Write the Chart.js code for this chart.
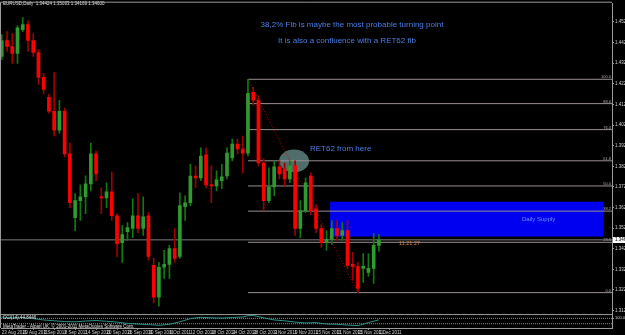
<!DOCTYPE html>
<html>
<head>
<meta charset="utf-8">
<script src="https://cdn.jsdelivr.net/npm/chart.js@4.4.1/dist/chart.umd.min.js"></script>
<style>
  html, body { margin: 0; padding: 0; background: #000; }
  #chart { display: block; }
</style>
</head>
<body>
<canvas id="chart" width="625" height="335"></canvas>
<script>
// EURUSD daily, 23 Aug 2011 - 1 Dec 2011 (one entry per candle)
const opens = [1.4358, 1.4435, 1.4406, 1.4372, 1.4488, 1.4512, 1.4435, 1.4377, 1.4256, 1.4160,
  1.4092, 1.4000, 1.4092, 1.3885, 1.3576, 1.3658, 1.3677, 1.3740, 1.3885, 1.3677,
  1.3672, 1.3701, 1.3585, 1.3455, 1.3508, 1.3523, 1.3585, 1.3523, 1.3585, 1.3344,
  1.3190, 1.3335, 1.3349, 1.3426, 1.3388, 1.3629, 1.3648, 1.3778, 1.3769, 1.3880,
  1.3735, 1.3730, 1.3755, 1.3778, 1.3865, 1.3933, 1.3909, 1.3889, 1.4184, 1.4146,
  1.3841, 1.3658, 1.3725, 1.3822, 1.3812, 1.3764, 1.3827, 1.3523, 1.3610, 1.3778,
  1.3619, 1.3523, 1.3455, 1.3470, 1.3523, 1.3489, 1.3513, 1.3349, 1.3339, 1.3330,
  1.3310, 1.3330, 1.3441];
const highs = [1.4464, 1.4478, 1.4469, 1.4507, 1.4546, 1.4531, 1.4469, 1.4391, 1.4276, 1.4174,
  1.4280, 1.4145, 1.4107, 1.3938, 1.3692, 1.3735, 1.3779, 1.3938, 1.3899, 1.3721,
  1.3745, 1.3798, 1.3595, 1.3537, 1.3552, 1.3667, 1.3692, 1.3677, 1.3600, 1.3378,
  1.3359, 1.3417, 1.3441, 1.3523, 1.3696, 1.3682, 1.3836, 1.3827, 1.3914, 1.3914,
  1.3827, 1.3803, 1.3836, 1.3914, 1.3957, 1.3957, 1.3972, 1.4247, 1.4208, 1.4165,
  1.3861, 1.3817, 1.3851, 1.3851, 1.3841, 1.3851, 1.3851, 1.3658, 1.3769, 1.3793,
  1.3639, 1.3542, 1.3513, 1.3562, 1.3562, 1.3552, 1.3562, 1.3407, 1.3359, 1.3402,
  1.3400, 1.3499, 1.3494];
const lows = [1.4343, 1.4382, 1.4324, 1.4324, 1.4478, 1.4382, 1.4358, 1.4222, 1.4179, 1.4083,
  1.3971, 1.3986, 1.3870, 1.3624, 1.3513, 1.3562, 1.3595, 1.3706, 1.3755, 1.3595,
  1.3624, 1.3562, 1.3387, 1.3359, 1.3465, 1.3479, 1.3503, 1.3489, 1.3369, 1.3161,
  1.3146, 1.3281, 1.3281, 1.3359, 1.3378, 1.3562, 1.3634, 1.3721, 1.3755, 1.3721,
  1.3648, 1.3706, 1.3716, 1.3764, 1.3851, 1.3885, 1.3793, 1.3875, 1.4121, 1.3827,
  1.3610, 1.3648, 1.3682, 1.3764, 1.3730, 1.3745, 1.3489, 1.3479, 1.3600, 1.3590,
  1.3503, 1.3431, 1.3417, 1.3446, 1.3465, 1.3465, 1.3330, 1.3272, 1.3212, 1.3262,
  1.3291, 1.3257, 1.3412];
const closes = [1.4435, 1.4406, 1.4372, 1.4497, 1.4512, 1.4435, 1.4377, 1.4256, 1.4198, 1.4092,
  1.4000, 1.4092, 1.3885, 1.3648, 1.3658, 1.3677, 1.3740, 1.3885, 1.3788, 1.3672,
  1.3701, 1.3585, 1.3450, 1.3494, 1.3528, 1.3585, 1.3523, 1.3580, 1.3388, 1.3190,
  1.3335, 1.3349, 1.3426, 1.3378, 1.3634, 1.3648, 1.3778, 1.3769, 1.3875, 1.3735,
  1.3730, 1.3759, 1.3774, 1.3889, 1.3933, 1.3909, 1.3889, 1.4179, 1.4146, 1.3841,
  1.3658, 1.3725, 1.3822, 1.3788, 1.3764, 1.3827, 1.3523, 1.3610, 1.3745, 1.3610,
  1.3523, 1.3455, 1.3470, 1.3523, 1.3489, 1.3513, 1.3344, 1.3339, 1.3233, 1.3340,
  1.3330, 1.3441, 1.3468];

// date labels on the time axis, one every 4 candles
const tickIdx = [0, 4, 8, 12, 16, 20, 24, 28, 32, 36, 40, 44, 48, 52, 56, 60, 64, 68, 72];
const dayLabels = ['23 Aug 2011', '29 Aug 2011', '2 Sep 2011', '8 Sep 2011', '14 Sep 2011',
  '20 Sep 2011', '26 Sep 2011', '30 Sep 2011', '6 Oct 2011', '12 Oct 2011', '18 Oct 2011',
  '24 Oct 2011', '28 Oct 2011', '3 Nov 2011', '9 Nov 2011', '15 Nov 2011', '21 Nov 2011',
  '25 Nov 2011', '1 Dec 2011'];

// fibo from the 27 Oct high to the 25 Nov low
const fibHigh = 1.4247, fibLow = 1.3212;
const fibStart = 47, fibEnd = 68;
const fibRatios = [0, 23.6, 38.2, 50.0, 61.8, 76.4, 88.6, 100.0];

// supply zone and the marked area
const zoneStart = 62.65, zoneEnd = 114.9, zoneTop = 1.3653, zoneBottom = 1.3484;
const markX = 55.8, markY = 1.3851, markW = 2.86, markH = 0.0055;

// CCI(14) in the lower window, read every couple of candles
const cciIdx = [0, 2, 4, 6, 8, 10, 12, 14, 16, 18, 20, 22, 24, 26, 28, 30, 32, 34, 36, 38,
  40, 42, 44, 46, 47, 48, 50, 52, 54, 56, 58, 60, 62, 64, 66, 68, 70, 72];
const cciVal = [150, 120, 130, 90, 40, 10, -20, -30, 0, 20, -10, -40, -90, -110, -130, -160, -120, -30, 90, 140,
  120, 110, 130, 150, 200, 210, 120, 40, 10, -40, -70, -60, -110, -120, -150, -170, -60, 45];
const cciLevels = [100, -100];

const xMin = -0.15, xMax = 116.5;
const yMin = 1.3108, yMax = 1.46137;
const priceTicks = [];
for (let p = 1.3125; p < 1.46; p += 0.005) priceTicks.push(+p.toFixed(4));

const lastClose = closes[closes.length - 1];

const wickData = [], bodyData = [], wickColors = [], bodyColors = [];
for (let i = 0; i < opens.length; i++) {
  const up = closes[i] >= opens[i];
  wickData.push({x: i, y: [lows[i], highs[i]]});
  bodyData.push({x: i, y: [opens[i], closes[i]]});
  wickColors.push(up ? '#0f7a0f' : '#a00000');
  bodyColors.push(up ? '#2f9a2f' : '#ff0000');
}

const datasets = [
  {type: 'bar', data: bodyData, backgroundColor: bodyColors, barThickness: 3, grouped: false,
    minBarLength: 1, borderWidth: 0, order: 0, yAxisID: 'y'},
  {type: 'bar', data: wickData, backgroundColor: wickColors, barThickness: 1, grouped: false,
    borderWidth: 0, order: 1, yAxisID: 'y'}
];

fibRatios.forEach(function (r) {
  const lvl = fibLow + (fibHigh - fibLow) * r / 100;
  datasets.push({type: 'line', data: [{x: fibStart, y: lvl}, {x: xMax, y: lvl}],
    borderColor: '#9a8f8f', borderWidth: 1, pointRadius: 0, order: 5, yAxisID: 'y'});
});
datasets.push({type: 'line', data: [{x: fibStart, y: fibHigh}, {x: fibEnd, y: fibLow}],
  borderColor: '#d00000', borderWidth: 1, borderDash: [1, 2], pointRadius: 0, order: 4, yAxisID: 'y'});
datasets.push({type: 'line', data: [{x: xMin, y: lastClose}, {x: xMax, y: lastClose}],
  borderColor: '#7c7c7c', borderWidth: 1, pointRadius: 0, order: 6, yAxisID: 'y'});

cciLevels.forEach(function (l) {
  datasets.push({type: 'line', data: [{x: xMin, y: l}, {x: xMax, y: l}],
    borderColor: '#8a8a8a', borderWidth: 1, borderDash: [1, 1], pointRadius: 0, order: 3, yAxisID: 'y2'});
});
datasets.push({type: 'line', data: cciIdx.map((v, k) => ({x: v, y: cciVal[k]})),
  borderColor: '#2f8f88', borderWidth: 1, pointRadius: 0, order: 2, yAxisID: 'y2'});

const smallFont = 'Liberation Sans';

const overlay = {
  id: 'overlay',
  beforeDatasetsDraw(chart) {
    const ctx = chart.ctx, x = chart.scales.x, y = chart.scales.y;
    ctx.save();
    const x1 = x.getPixelForValue(zoneStart), x2 = x.getPixelForValue(zoneEnd);
    const y1 = y.getPixelForValue(zoneTop), y2 = y.getPixelForValue(zoneBottom);
    ctx.fillStyle = '#0000f0';
    ctx.fillRect(x1, y1, x2 - x1, y2 - y1);

    const cx = x.getPixelForValue(markX), cy = y.getPixelForValue(markY);
    const rx = x.getPixelForValue(markX + markW) - cx;
    const ry = y.getPixelForValue(markY - markH) - cy;
    ctx.fillStyle = '#4f6d6b';
    ctx.beginPath();
    ctx.ellipse(cx, cy, rx, ry, 0, 0, Math.PI * 2);
    ctx.fill();
    ctx.restore();
  },
  afterDatasetsDraw(chart) {
    const ctx = chart.ctx, x = chart.scales.x, y = chart.scales.y, a = chart.chartArea;
    ctx.save();
    // fibo level captions
    ctx.font = '4px ' + smallFont;
    ctx.fillStyle = '#b8a8a8';
    ctx.textAlign = 'right';
    ctx.textBaseline = 'bottom';
    fibRatios.forEach(function (r) {
      const lvl = fibLow + (fibHigh - fibLow) * r / 100;
      ctx.fillText(r.toFixed(1), a.right - 1, y.getPixelForValue(lvl));
    });

    ctx.textBaseline = 'middle';
    ctx.textAlign = 'center';
    ctx.fillStyle = '#4b7fe6';
    ctx.font = '8px Liberation Sans';
    ctx.fillText('38,2% Fib is maybe the most probable turning point', 352, 25);
    ctx.fillText('It is also a confluence with a RET62 fib', 347, 40.5);
    ctx.textAlign = 'left';
    ctx.fillText('RET62 from here', 310, 149);
    ctx.fillStyle = '#6a93ff';
    ctx.font = '6px Liberation Sans';
    ctx.fillText('Daily Supply', 522, 219);
    ctx.fillStyle = '#d08a44';
    ctx.font = '5.5px ' + smallFont;
    ctx.fillText('11:21:27', 399, 243);

    ctx.fillStyle = '#e0e0e0';
    ctx.font = '4.5px ' + smallFont;
    ctx.textBaseline = 'top';
    ctx.fillText('EURUSD,Daily  1.34424 1.35033 1.34169 1.34600', 3, 2);
    const y2 = chart.scales.y2;
    ctx.fillText('CCI(14) 44.8446', 3, y2.top + 1.5);
    ctx.fillText('MetaTrader - Alpari UK, \u00a9 2001-2011 MetaQuotes Software Corp.', 3, y2.top + 10);
    ctx.restore();
  },
  afterDraw(chart) {
    const ctx = chart.ctx, a = chart.chartArea, y = chart.scales.y, y2 = chart.scales.y2;
    ctx.save();
    ctx.strokeStyle = '#9a9a9a';
    ctx.lineWidth = 1;
    ctx.beginPath();
    ctx.moveTo(a.left - 0.5, a.top - 1.5); ctx.lineTo(a.right, a.top - 1.5);
    ctx.moveTo(a.left - 0.5, a.top - 1.5); ctx.lineTo(a.left - 0.5, a.bottom);
    ctx.moveTo(a.left, y.bottom + 0.5); ctx.lineTo(a.right, y.bottom + 0.5);
    ctx.moveTo(a.left, y2.bottom + 0.5); ctx.lineTo(a.right, y2.bottom + 0.5);
    ctx.stroke();
    // current price box on the axis
    const py = Math.round(y.getPixelForValue(lastClose));
    ctx.fillStyle = '#ffffff';
    ctx.fillRect(a.right + 1, py - 3, 14, 6);
    ctx.fillStyle = '#000000';
    ctx.font = '4.5px ' + smallFont;
    ctx.textBaseline = 'middle';
    ctx.fillText(lastClose.toFixed(5), a.right + 3, py);
    ctx.restore();
  }
};

new Chart(document.getElementById('chart').getContext('2d'), {
  type: 'bar',
  data: {datasets: datasets},
  options: {
    responsive: false,
    animation: false,
    events: [],
    layout: {padding: {top: 2, left: 1, right: 0, bottom: 0}},
    plugins: {legend: {display: false}, tooltip: {enabled: false}},
    scales: {
      x: {
        type: 'linear', min: xMin, max: xMax, offset: false,
        afterBuildTicks: function (s) { s.ticks = tickIdx.map(v => ({value: v})); },
        afterFit: function (s) { s.height = 7; },
        ticks: {
          color: '#d0d0d0', font: {size: 4.5, family: smallFont}, padding: 0,
          maxRotation: 0, autoSkip: false, align: 'start',
          callback: function (v, i) { return dayLabels[i]; }
        },
        grid: {drawOnChartArea: false, drawTicks: true, tickLength: 2, color: '#808080'},
        border: {display: false}
      },
      y: {
        type: 'linear', position: 'right', stack: 'v', stackWeight: 312,
        min: yMin, max: yMax,
        afterBuildTicks: function (s) { s.ticks = priceTicks.map(v => ({value: v})); },
        afterFit: function (s) { s.width = 13; },
        ticks: {
          color: '#d0d0d0', font: {size: 4.5, family: smallFont}, padding: 1,
          callback: function (v) { return v.toFixed(5); }
        },
        grid: {drawOnChartArea: false, drawTicks: true, tickLength: 2, color: '#9a9a9a'},
        border: {display: true, color: '#9a9a9a'}
      },
      y2: {
        type: 'linear', position: 'right', stack: 'v', stackWeight: 14,
        min: -260, max: 260,
        afterBuildTicks: function (s) { s.ticks = cciLevels.map(v => ({value: v})); },
        afterFit: function (s) { s.width = 13; },
        ticks: {
          color: '#d0d0d0', font: {size: 4, family: smallFont}, padding: 1,
          callback: function (v) { return v.toFixed(2); }
        },
        grid: {drawOnChartArea: false, drawTicks: true, tickLength: 2, color: '#9a9a9a'},
        border: {display: true, color: '#9a9a9a'}
      }
    }
  },
  plugins: [overlay]
});
</script>
</body>
</html>
